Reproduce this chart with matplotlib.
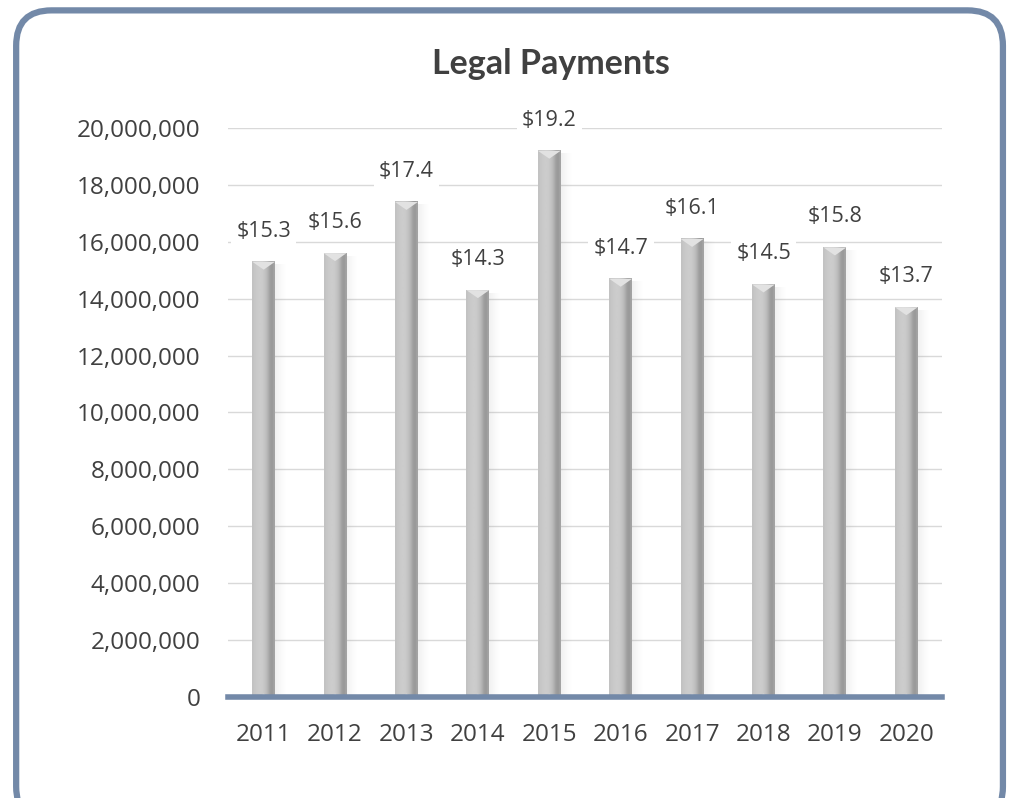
import numpy as np
import matplotlib

matplotlib.use("Agg")
import matplotlib.pyplot as plt
from matplotlib.patches import FancyBboxPatch, Polygon
from matplotlib.ticker import FuncFormatter

# Legal payments per year (dollars)
years = ["2011", "2012", "2013", "2014", "2015", "2016", "2017", "2018", "2019", "2020"]
payments = [15.3e6, 15.6e6, 17.4e6, 14.3e6, 19.2e6, 14.7e6, 16.1e6, 14.5e6, 15.8e6, 13.7e6]
labels = ["$15.3", "$15.6", "$17.4", "$14.3", "$19.2", "$14.7", "$16.1", "$14.5", "$15.8", "$13.7"]

FRAME = "#7389a8"
TEXT = "#404040"
plt.rcParams["font.family"] = ["Open Sans", "DejaVu Sans"]

fig = plt.figure(figsize=(10.1, 7.98), dpi=100)

# rounded frame around the whole chart
frame = FancyBboxPatch((0.016, -0.03), 0.977, 1.017, boxstyle="round,pad=0,rounding_size=0.035",
                       transform=fig.transFigure, facecolor="white", edgecolor=FRAME,
                       linewidth=4.5, mutation_aspect=1010 / 798, zorder=-5)
fig.patches.append(frame)

ax = fig.add_axes([0.2257, 0.1266, 0.707, 0.713])
ax.set_zorder(2)
ax.set_facecolor("none")
ax.set_xlim(-0.5, len(years) - 0.5)
ax.set_ylim(0, 20e6)
ax.set_yticks(np.arange(0, 20e6 + 1, 2e6))
ax.yaxis.set_major_formatter(FuncFormatter(lambda v, _: f"{v:,.0f}"))
ax.set_xticks(range(len(years)))
ax.set_xticklabels(years)
ax.tick_params(length=0, colors=TEXT)
ax.tick_params(axis="x", labelsize=17.5, pad=19)
ax.tick_params(axis="y", labelsize=17.5, pad=20)
ax.grid(axis="y", color="#d9d9d9", linewidth=1)
ax.set_axisbelow(True)
for s in ("top", "right", "left"):
    ax.spines[s].set_visible(False)
ax.spines["bottom"].set_color(FRAME)
ax.spines["bottom"].set_linewidth(4)
ax.spines["bottom"].set_zorder(5)

w = 0.32
bar_grad = np.array([[0.76, 0.78, 0.79, 0.80, 0.80, 0.79, 0.77, 0.74, 0.68, 0.62, 0.60, 0.64]])
shadow = np.zeros((1, 20, 4))
shadow[..., :3] = 0.55
shadow[0, :, 3] = np.linspace(0.25, 0.0, 20) ** 1.5
tri_h = 0.28e6
for i, v in enumerate(payments):
    x0, x1 = i - w / 2, i + w / 2
    ax.imshow(shadow, extent=(x1, x1 + 0.17, 0, v - 0.1e6), aspect="auto", zorder=2,
              interpolation="bilinear")
    ax.imshow(bar_grad, extent=(x0, x1, 0, v), aspect="auto", cmap="gray",
              vmin=0, vmax=1, zorder=3, interpolation="bilinear")
    ax.add_patch(Polygon([(x0, v), (x1, v), (i, v - tri_h)], closed=True,
                         facecolor="#e2e2e2", edgecolor="none", zorder=4))
    ax.add_patch(Polygon([(x0 + 0.3 * w, 0), (x1 - 0.3 * w, 0), (i, 0.12e6)], closed=True,
                         facecolor="#dcdcdc", edgecolor="none", zorder=4))
    ax.annotate(labels[i], (i, v), xytext=(0, 22), textcoords="offset points",
                ha="center", va="center", fontsize=15.5, color=TEXT, zorder=6,
                annotation_clip=False,
                bbox=dict(boxstyle="square,pad=0.25", facecolor="white", edgecolor="none"))

ax.set_xlim(-0.5, len(years) - 0.5)
ax.set_ylim(0, 20e6)

fig.text(0.545, 0.92, "Legal Payments", ha="center", va="center", fontsize=24.5,
         fontweight="bold", color=TEXT, family=["Lato", "DejaVu Sans"])

fig.savefig("out.png", dpi=100)
